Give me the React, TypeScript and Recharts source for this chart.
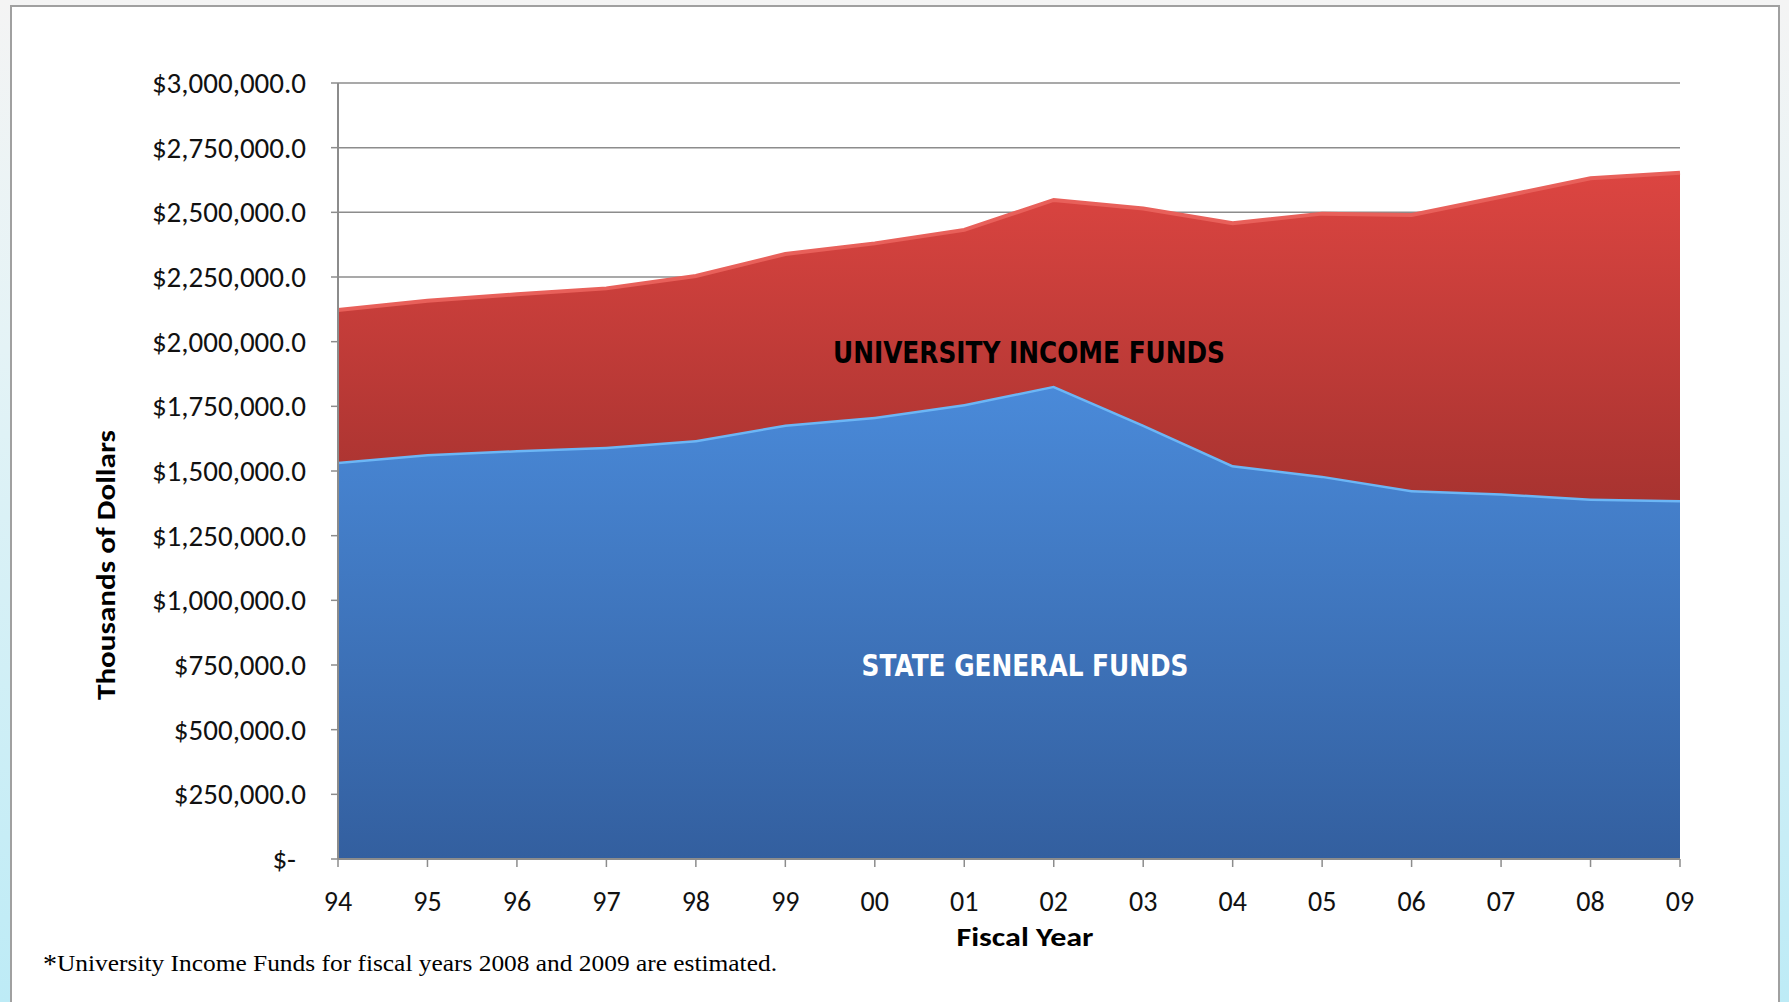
import React from "react";
import {
  AreaChart,
  Area,
  XAxis,
  YAxis,
  CartesianGrid,
} from "recharts";

const YEARS = ["94", "95", "96", "97", "98", "99", "00", "01", "02", "03", "04", "05", "06", "07", "08", "09"];

// thousands of dollars
const STATE_GENERAL = [
  1536000, 1566000, 1581000, 1594000, 1620000, 1680000, 1710000, 1759000,
  1830000, 1680000, 1523000, 1482000, 1427000, 1414000, 1394000, 1388000,
];

const UNIVERSITY_INCOME = [
  586000, 592000, 602000, 612000, 634000, 659000, 670000, 673000,
  718000, 835000, 935000, 1013000, 1063000, 1146000, 1238000, 1265000,
];

const Y_TICKS = [0, 250000, 500000, 750000, 1000000, 1250000, 1500000, 1750000, 2000000, 2250000, 2500000, 2750000, 3000000];

const data = YEARS.map((year, i) => ({
  year,
  state: STATE_GENERAL[i],
  university: UNIVERSITY_INCOME[i],
}));

const TICK_FONT = "Carlito, Lato, 'Open Sans', sans-serif";

const formatDollars = (v: number) =>
  v === 0
    ? "$-"
    : "$" + v.toLocaleString("en-US", { minimumFractionDigits: 1, maximumFractionDigits: 1 });

const YTick = (props: any) => {
  const { x, y, payload } = props;
  const isZero = payload.value === 0;
  return (
    <text
      x={isZero ? x - 10 : x}
      y={y}
      dy={10}
      textAnchor="end"
      fontFamily={TICK_FONT}
      fontSize={29}
      fill="#111"
    >
      {formatDollars(payload.value)}
    </text>
  );
};

const XTick = (props: any) => {
  const { x, y, payload } = props;
  return (
    <text x={x} y={y} dy={42} textAnchor="middle" fontFamily={TICK_FONT} fontSize={28} fill="#111">
      {payload.value}
    </text>
  );
};

export default function App() {
  return (
    <div
      style={{
        position: "absolute",
        left: 0,
        top: 0,
        width: 1789,
        height: 1002,
        overflow: "hidden",
        background: "linear-gradient(to bottom, #f4f4f4 0%, #e4f3f6 35%, #bdebf6 100%)",
      }}
    >
      <div
        style={{
          position: "absolute",
          left: 10,
          top: 5,
          width: 1766,
          height: 1010,
          background: "#fff",
          border: "2px solid #a0a0a0",
        }}
      />
      <div style={{ position: "absolute", left: 0, top: 0 }}>
        <AreaChart
          width={1789}
          height={1002}
          data={data}
          margin={{ top: 83, right: 109, bottom: 113, left: 0 }}
        >
          <defs>
            <linearGradient id="redFill" x1="0" y1="0" x2="0" y2="1">
              <stop offset="0%" stopColor="#dc4541" />
              <stop offset="100%" stopColor="#a83330" />
            </linearGradient>
            <linearGradient id="blueFill" x1="0" y1="0" x2="0" y2="1">
              <stop offset="0%" stopColor="#4a8ad9" />
              <stop offset="100%" stopColor="#335f9f" />
            </linearGradient>
          </defs>
          <CartesianGrid vertical={false} stroke="#8c8c8c" strokeWidth={1.5} />
          <XAxis
            dataKey="year"
            height={30}
            tick={<XTick />}
            tickSize={8}
            axisLine={{ stroke: "#8c8c8c", strokeWidth: 2 }}
            tickLine={{ stroke: "#8c8c8c", strokeWidth: 1.5 }}
          />
          <YAxis
            width={338}
            domain={[0, 3000000]}
            ticks={Y_TICKS}
            interval={0}
            tick={<YTick />}
            tickSize={7}
            tickMargin={25}
            axisLine={{ stroke: "#8c8c8c", strokeWidth: 2 }}
            tickLine={{ stroke: "#8c8c8c", strokeWidth: 1.5 }}
          />
          <Area
            type="linear"
            dataKey="state"
            stackId="funds"
            fill="url(#blueFill)"
            fillOpacity={1}
            stroke="#6cb6f5"
            strokeWidth={5}
            isAnimationActive={false}
          />
          <Area
            type="linear"
            dataKey="university"
            stackId="funds"
            fill="url(#redFill)"
            fillOpacity={1}
            stroke="#e8605a"
            strokeWidth={4}
            isAnimationActive={false}
          />
        </AreaChart>
      </div>
      {/* text labels drawn over the chart */}
      <svg
        width={1789}
        height={1002}
        style={{ position: "absolute", left: 0, top: 0, pointerEvents: "none" }}
      >
        <text
          x={1029}
          y={363}
          textAnchor="middle"
          fontFamily="'DejaVu Sans', sans-serif"
          fontWeight="bold"
          fontSize={31}
          textLength={392}
          lengthAdjust="spacingAndGlyphs"
          fill="#000"
        >
          UNIVERSITY INCOME FUNDS
        </text>
        <text
          x={1025}
          y={676}
          textAnchor="middle"
          fontFamily="'DejaVu Sans', sans-serif"
          fontWeight="bold"
          fontSize={31}
          textLength={327}
          lengthAdjust="spacingAndGlyphs"
          fill="#fff"
        >
          STATE GENERAL FUNDS
        </text>
        <text
          x={1025}
          y={946}
          textAnchor="middle"
          fontFamily={TICK_FONT}
          fontWeight="bold"
          fontSize={27}
          textLength={137}
          lengthAdjust="spacingAndGlyphs"
          fill="#000"
        >
          Fiscal Year
        </text>
        <text
          x={115}
          y={565}
          transform="rotate(-90 115 565)"
          textAnchor="middle"
          fontFamily={TICK_FONT}
          fontWeight="bold"
          fontSize={27}
          textLength={270}
          lengthAdjust="spacingAndGlyphs"
          fill="#000"
        >
          Thousands of Dollars
        </text>
        <text x={43} y={971} fontFamily="'Liberation Serif', 'Times New Roman', serif" fill="#000">
          <tspan fontSize={28} dy={2}>*</tspan>
          <tspan
            fontSize={23}
            dy={-2}
            textLength={720}
            lengthAdjust="spacingAndGlyphs"
          >
            University Income Funds for fiscal years 2008 and 2009 are estimated.
          </tspan>
        </text>
      </svg>
    </div>
  );
}
